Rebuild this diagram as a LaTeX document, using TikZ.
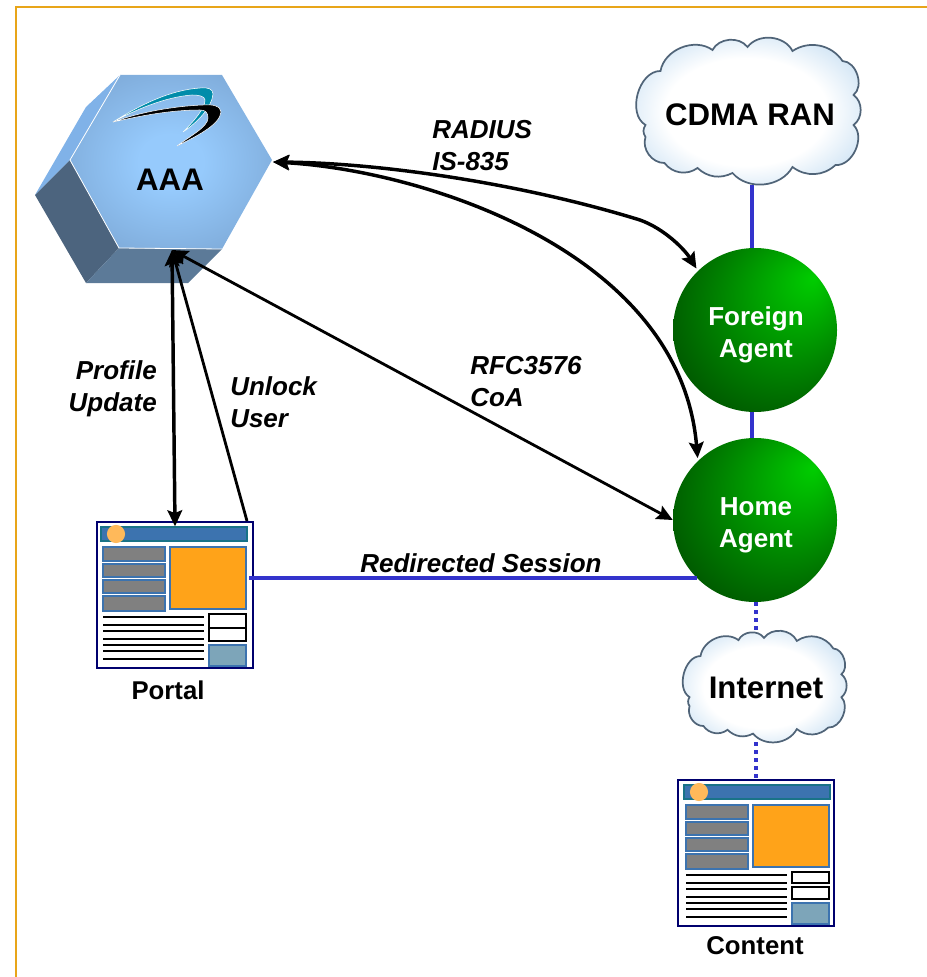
\documentclass[tikz,border=0pt]{standalone}
\usepackage{fontspec}
\usetikzlibrary{arrows.meta}
\setmainfont{Liberation Sans}
\definecolor{frameorange}{RGB}{232,165,25}
\definecolor{linkblue}{RGB}{51,51,204}
\definecolor{hexlight}{RGB}{128,178,232}
\definecolor{hexleft}{RGB}{76,100,126}
\definecolor{hexbottom}{RGB}{92,122,152}
\definecolor{hexcentre}{RGB}{150,202,252}
\definecolor{hexouter}{RGB}{126,170,216}
\definecolor{logoteal}{RGB}{0,140,170}
\definecolor{cloudedge}{RGB}{80,100,120}
\definecolor{cloudblue}{RGB}{125,185,232}
\definecolor{cloudpale}{RGB}{215,232,246}
\definecolor{ballhigh}{RGB}{0,205,0}
\definecolor{ballmid}{RGB}{0,135,0}
\definecolor{balllow}{RGB}{0,62,0}
\definecolor{pagenavy}{RGB}{0,0,110}
\definecolor{pagehead}{RGB}{60,115,175}
\definecolor{pageteal}{RGB}{25,115,135}
\definecolor{pagedot}{RGB}{255,185,90}
\definecolor{pageorange}{RGB}{255,163,25}
\definecolor{pageslate}{RGB}{125,165,185}
\pgfdeclareradialshading{greenball}{\pgfpoint{18bp}{16bp}}{color(0bp)=(ballhigh); color(20bp)=(ballmid); color(42bp)=(balllow); color(50bp)=(balllow)}
\pgfdeclareradialshading{cloudfill}{\pgfpointorigin}{color(0bp)=(white); color(17bp)=(white); color(26bp)=(cloudpale); color(34bp)=(cloudblue); color(50bp)=(cloudblue)}
\pgfdeclareradialshading{hexfill}{\pgfpointorigin}{color(0bp)=(hexcentre); color(8bp)=(hexcentre); color(30bp)=(hexouter); color(50bp)=(hexouter)}
\tikzset{
	bluelink/.style={draw=linkblue,line width=3pt},
	dotlink/.style={bluelink,dash pattern=on 3pt off 3pt},
	blacklink/.style={line width=2.6pt},
	thinlink/.style={line width=2.1pt},
	agent/.style={circle,shade,shading=greenball,minimum size=123pt,inner sep=0pt},
	agentlabel/.style={align=center,text=white,font=\bfseries\fontsize{19.5}{24}\selectfont},
	biglabel/.style={font=\bfseries\fontsize{23.4}{28}\selectfont},
	pagelabel/.style={font=\bfseries\fontsize{19.3}{24}\selectfont},
	linklabel/.style={inner sep=0pt,font=\bfseries\itshape\fontsize{19.5}{24}\selectfont},
	pagebox/.style={draw=pagenavy,line width=1.5pt,fill=white,anchor=north west,inner sep=0pt,minimum width=117pt,minimum height=109.5pt},
	pagebar/.style={draw=pagehead,line width=1.2pt,fill=gray},
}
% cloud outline, centre at the origin
\newcommand\cloudpath{(-87,-42) to[bend left=58] (-35,-63) to[bend left=58] (0,-66) to[bend left=58] (45,-62) to[bend left=45] (95,-52) to[bend left=70] (106,-18) to[bend left=55] (106,12) to[bend left=70] (88,52) to[bend left=40] (45,54) to[bend left=55] (-15,60) to[bend left=35] (-50,55) to[bend left=45] (-83,50) to[bend left=55] (-102,24) to[bend left=35] (-102,12) to[bend left=75] cycle}
\newcommand\netcloud[3]{
	\begin{scope}[shift={(#1)},xscale=#2,yscale=#3]
	\shadedraw[shading=cloudfill,draw=cloudedge,line width=1.3pt] \cloudpath;
	\end{scope}
}
\newcommand\webpage[6]{
	\node[pagebox] (#1) at (#2,#3) {};
	\begin{scope}[shift={(#2+#4,#3)}]
	\draw[draw=pageteal,line width=1.2pt,fill=pagehead] (5,6) rectangle (151,20);
	\fill[pagedot] (20,13) circle (6.8pt);
	\draw[pagebar] (7,26) rectangle (69,40);
	\draw[pagebar] (7,43) rectangle (69,56);
	\draw[pagebar] (7,59) rectangle (69,72);
	\draw[pagebar] (7,75) rectangle (69,90);
	\draw[draw=pagehead,line width=1.2pt,fill=pageorange] (74,26) rectangle (150,88);
	\foreach \ypos in {96,104,110,118,124,130,138}
		\draw[line width=1.1pt] (7,\ypos) -- (108,\ypos);
	\draw[line width=1.2pt,fill=white] (113,93) rectangle (150,#5);
	\draw[line width=1.2pt,fill=white] (113,#6) rectangle (150,120);
	\draw[draw=pagehead,line width=1.2pt,fill=pageslate] (113,124) rectangle (150,145);
	\end{scope}
}
\begin{document}
\begin{tikzpicture}[line cap=butt,line join=miter,>={Stealth[length=12pt,width=11pt,inset=2pt]},x=0.75pt,y=-0.75pt]
	\useasboundingbox (0,0) rectangle (927,977);
	\draw[frameorange,line width=1.6pt] (16,977) -- (16,7) -- (927,7);
	% AAA hexagon
	\fill[hexlight] (120,75) -- (86,107) -- (35,195) -- (70,160) -- cycle;
	\fill[hexleft] (70,160) -- (35,195) -- (86,283) -- (119,248) -- cycle;
	\fill[hexbottom] (119,248) -- (222,249) -- (188,283) -- (86,283) -- cycle;
	\shade[shading=hexfill] (120,75) -- (222,75) -- (272,160) -- (222,249) -- (119,248) -- (70,160) -- cycle;
	\draw[white,line width=0.6pt] (120,75) -- (70,160) -- (119,248) -- (222,249);
	% logo
	\fill[logoteal,draw=white,line width=0.4pt] (113,122) .. controls (140,105) and (170,90) .. (200,88) .. controls (208,87) and (213,89) .. (213,94) .. controls (212,107) and (198,122) .. (183,132) .. controls (195,120) and (205,108) .. (205,100) .. controls (205,96) and (198,95) .. (192,95) .. controls (165,97) and (135,110) .. cycle;
	\fill[black,draw=white,line width=0.4pt] (113,122) .. controls (140,112) and (175,106) .. (203,105) .. controls (212,104) and (221,106) .. (221,112) .. controls (220,125) and (195,137) .. (177,146) .. controls (190,136) and (208,127) .. (208,118) .. controls (208,112) and (205,110) .. (200,110) .. controls (170,110) and (140,116) .. cycle;
	\node[biglabel] (aaa) at (170,180) {AAA};
	\coordinate (aaaE) at (273,162);
	\coordinate (aaaS) at (172,250);
	% clouds
	\netcloud{747.5,113}{1}{1}
	\netcloud{764,688}{0.73}{0.76}
	\node[biglabel] (cran) at (750,115) {CDMA RAN};
	\node[biglabel] (inet) at (766,688) {Internet};
	\coordinate (cranS) at (752,185);
	\coordinate (inetN) at (756,634);
	\coordinate (inetS) at (756,742);
	% agents
	\node[agent] (fa) at (755,330) {};
	\node[agent] (ha) at (755,520) {};
	\node[agentlabel] (faname) at (756,335) {Foreign\\Agent};
	\node[agentlabel] (haname) at (756,525) {Home\\Agent};
	% pages
	\webpage{portal}{96}{521}{0}{107}{107}
	\webpage{content}{677}{779}{2}{104}{108}
	\node[pagelabel] (portalname) at (168,690) {Portal};
	\node[pagelabel] (contentname) at (755,946) {Content};
	% links
	\draw[bluelink] (cranS) -- (cranS |- fa.north);
	\draw[bluelink] ([xshift=-2.25pt]fa.south) -- ([xshift=-2.25pt]ha.north);
	\draw[bluelink] (ha.225) -- ([xshift=-3.75pt]ha.225 -| portal.east);
	\draw[dotlink] (ha.south) ++(0.75pt,0) -- (inetN);
	\draw[dotlink] (inetS) -- (inetS |- content.north);
	\draw[blacklink,<->,shorten >=2pt] (aaaE) .. controls (380,163) and (520,183) .. (640,220) .. controls (665,229) and (685,250) .. (fa.134);
	\draw[blacklink,<->,shorten >=2pt] (aaaE) .. controls (420,170) and (680,250) .. (ha.134);
	\draw[thinlink,<->] (aaaS) -- (ha.west);
	\draw[blacklink,<->] (aaaS) -- ([yshift=-4pt]portal.north);
	\draw[thinlink,->] ([xshift=-5.25pt]portal.north east) -- (aaaS);
	% labels
	\node[linklabel,align=left,anchor=west] (radius) at (432,146) {RADIUS\\IS-835};
	\node[linklabel,align=left,anchor=west] (rfc) at (470,382) {RFC3576\\CoA};
	\node[linklabel,align=right,anchor=east] (profile) at (157,389) {Profile\\Update};
	\node[linklabel,align=left,anchor=west] (unlock) at (230,402) {Unlock\\User};
	\node[linklabel] (redirect) at (481,563) {Redirected Session};
\end{tikzpicture}
\end{document}
